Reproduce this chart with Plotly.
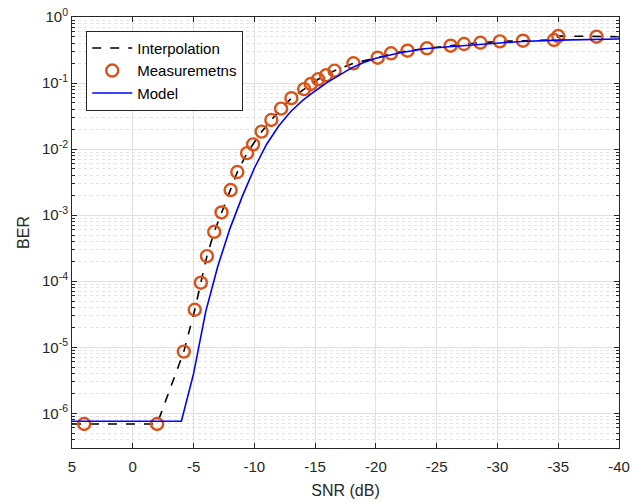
import plotly.graph_objects as go

# Measurements (orange open circles)
meas_x = [4.0, -2.0, -4.2, -5.1, -5.6, -6.1, -6.7, -7.3, -8.05, -8.6, -9.4, -9.9,
          -10.6, -11.4, -12.2, -13.05, -14.1, -14.65, -15.25, -15.9, -16.6, -18.15,
          -20.15, -21.25, -22.6, -24.2, -26.15, -27.25, -28.6, -30.2, -32.1, -34.65,
          -35.0, -38.15]
meas_y = [6.9e-7, 6.9e-7, 8.6e-6, 3.7e-5, 9.5e-5, 2.4e-4, 5.6e-4, 1.1e-3, 2.4e-3,
          4.5e-3, 8.7e-3, 1.18e-2, 1.84e-2, 2.76e-2, 4.1e-2, 5.9e-2, 8.1e-2, 9.7e-2,
          0.114, 0.131, 0.154, 0.199, 0.242, 0.282, 0.309, 0.336, 0.368, 0.39, 0.408,
          0.428, 0.438, 0.449, 0.515, 0.503]

# Interpolation (black dashed)
interp_x = [5.0] + meas_x + [-40.0]
interp_y = [6.9e-7] + meas_y + [0.503]

# Model (blue solid)
model_x = [5, -4, -5, -6, -7, -8, -9, -10, -11, -12, -13, -14, -15, -16, -17, -18,
           -19, -20, -22, -24, -26, -28, -30, -32, -35, -38, -40]
model_log = [-6.12, -6.12, -5.40, -4.46, -3.77, -3.20, -2.72, -2.29, -1.93, -1.65,
             -1.43, -1.26, -1.12, -0.99, -0.88, -0.77, -0.69, -0.625, -0.54, -0.48,
             -0.45, -0.42, -0.39, -0.37, -0.35, -0.34, -0.333]
model_y = [10 ** v for v in model_log]

x_ticks = [5, 0, -5, -10, -15, -20, -25, -30, -35, -40]
y_ticks = [1e-6, 1e-5, 1e-4, 1e-3, 1e-2, 1e-1, 1]
y_ticktext = ["10<sup>-6</sup>", "10<sup>-5</sup>", "10<sup>-4</sup>", "10<sup>-3</sup>",
              "10<sup>-2</sup>", "10<sup>-1</sup>", "10<sup>0</sup>"]

fig = go.Figure()
fig.add_trace(go.Scatter(x=interp_x, y=interp_y, mode="lines", name="Interpolation",
                         line=dict(color="black", width=1.6, dash="dash")))
fig.add_trace(go.Scatter(x=meas_x, y=meas_y, mode="markers", name="Measuremetns",
                         marker=dict(symbol="circle-open", size=12,
                                     color="#D95319", line=dict(width=2.4, color="#D95319"))))
fig.add_trace(go.Scatter(x=model_x, y=model_y, mode="lines", name="Model",
                         line=dict(color="#0000FF", width=1.6)))

FAM = "Liberation Sans, Arial, sans-serif"
axis_font = dict(family=FAM, size=15, color="#262626")

fig.update_layout(
    width=633, height=502,
    margin=dict(l=72, r=14, t=17, b=54),
    plot_bgcolor="white", paper_bgcolor="white",
    font=axis_font,
    showlegend=True,
    legend=dict(x=0.026, y=0.968, xanchor="left", yanchor="top",
                bgcolor="white", bordercolor="#262626", borderwidth=1,
                font=dict(family=FAM, size=15, color="black"),
                tracegroupgap=0, itemwidth=40),
    xaxis=dict(
        automargin=False,
        range=[5, -40], tickmode="array", tickvals=x_ticks,
        ticktext=[str(v) for v in x_ticks], tickfont=dict(family=FAM, size=15, color="#262626"),
        ticklabelstandoff=5,
        showgrid=True, gridcolor="#e0e0e0", gridwidth=1,
        zeroline=False, showline=True, linecolor="#262626", linewidth=1,
        mirror="allticks", ticks="inside", ticklen=5, tickcolor="#262626",
        title=dict(text="SNR (dB)", font=dict(family=FAM, size=16, color="#262626"), standoff=10),
    ),
    yaxis=dict(
        automargin=False,
        type="log", range=[-6.525, 0], tickmode="array", tickvals=y_ticks,
        ticktext=y_ticktext, tickfont=dict(family=FAM, size=15, color="#262626"),
        showgrid=True, gridcolor="#e0e0e0", gridwidth=1,
        zeroline=False, showline=True, linecolor="#262626", linewidth=1,
        mirror="allticks", ticks="inside", ticklen=5, tickcolor="#262626",
        minor=dict(dtick="D1", showgrid=True, gridcolor="#e3e3e3", griddash="dot",
                   ticks="inside", ticklen=3, tickcolor="#262626"),
        title=dict(text="BER", font=dict(family=FAM, size=16, color="#262626"), standoff=8),
    ),
)

fig.write_html("out.html", config={"displayModeBar": False},
               post_script="document.body.style.margin='0px';")
